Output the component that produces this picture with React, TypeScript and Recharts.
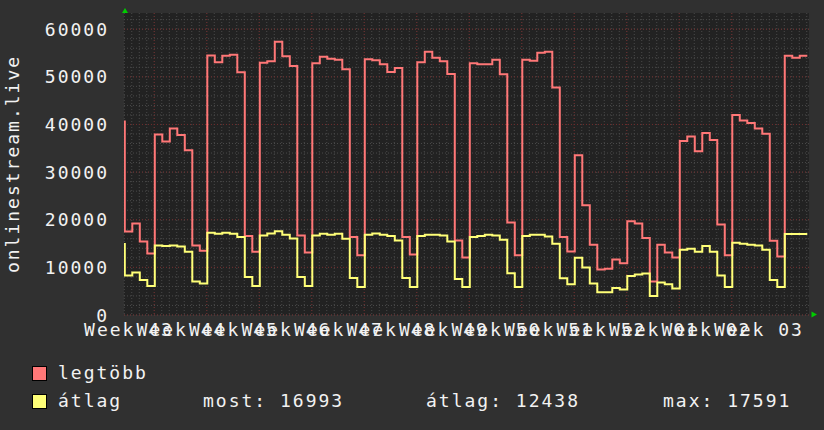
import React from "react";
import { LineChart, Line, XAxis, YAxis, CartesianGrid } from "recharts";

// daily values, first entry is the (partial) day just before the window
const maxValues = [
  40600,
  17550, 19235, 15444, 12917, 37908, 36434, 39172, 37768, 34609, 14602,
  13478, 54475, 53071, 54405, 54616, 50965, 16567, 13268, 52930, 53281,
  57353, 54335, 52299, 16708, 13127, 52860, 54194, 53773, 53562, 51597,
  16357, 12566, 53703, 53492, 52650, 51035, 51877, 16357, 12706, 53071,
  55247, 53984, 53281, 50614, 15655, 12074, 52860, 52650, 52650, 53562,
  50544, 19445, 12566, 53562, 53352, 55037, 55247, 47736, 16357, 13338,
  33556, 23026, 14742, 9547, 9688, 11653, 10881, 19656, 19235, 16146,
  7020, 14742, 13127, 12074, 36504, 37487, 34398, 38189, 36715, 19024,
  12566, 41980, 40856, 40295, 39172, 38048, 15584, 12285, 54405, 53984,
  54405,
];

const avgValues = [
  14883,
  8284, 8915, 7371, 6107, 14602, 14461, 14602, 14391, 13268, 7020,
  6599, 17269, 17059, 17269, 17059, 16357, 8003, 6107, 16708, 17129,
  17591, 16848, 16076, 8003, 6107, 16708, 17059, 16848, 17059, 16006,
  7792, 5897, 16848, 17129, 16848, 16567, 15655, 7792, 5897, 16567,
  16848, 16848, 16708, 15444, 7582, 5897, 16357, 16567, 16848, 16708,
  15795, 8775, 5897, 16567, 16848, 16848, 16497, 14953, 7722, 6458,
  12004, 9968, 6599, 4774, 4774, 5686, 5335, 8213, 8494, 8705,
  4001, 6809, 6458, 5546, 13689, 13900, 13268, 14461, 13268, 8284,
  5897, 15163, 14953, 14742, 14602, 13689, 7371, 5897, 16993, 16993,
  16993,
];

const weekLabels = [
  "Week 43", "Week 44", "Week 45", "Week 46", "Week 47", "Week 48", "Week 49",
  "Week 50", "Week 51", "Week 52", "Week 01", "Week 02", "Week 03",
];

const yTicks = [0, 10000, 20000, 30000, 40000, 50000, 60000];

const seriesNames = ["legtöbb", "átlag"];
const statLabels = ["most:", "átlag:", "max:"];
const statValues = [16993, 12438, 17591];

const W = 824;
const H = 430;
const firstDay = -1;
const xDomain = [-0.107, 91.23];
const yDomain = [0, 63400];
const week43Start = -3.07;

const data = maxValues.map((v, i) => ({ day: firstDay + i, max: v, avg: avgValues[i] }));
data.push({
  day: firstDay + maxValues.length,
  max: maxValues[maxValues.length - 1],
  avg: avgValues[avgValues.length - 1],
});

const weekStarts = weekLabels.map((_, i) => week43Start + 7 * i).filter((d) => d > xDomain[0]);
const weekMids = weekLabels.map((_, i) => week43Start + 3.5 + 7 * i);
const dayLines: number[] = [];
for (let d = week43Start; d < xDomain[1]; d += 1) if (d > xDomain[0]) dayLines.push(d);
const minorY: number[] = [];
for (let v = 0; v < yDomain[1]; v += 2000) minorY.push(v);

const font = { fontFamily: "'DejaVu Sans Mono', monospace", fontSize: 18, letterSpacing: 2 };
const TEXT = "#f2f2f2";

const XTick = (props: any) => {
  const { x, y, index } = props;
  return (
    <text x={x + 1} y={y + 21} textAnchor="middle" fill={TEXT} style={font}>
      {weekLabels[index]}
    </text>
  );
};

const YTick = (props: any) => {
  const { x, y, payload } = props;
  return (
    <text x={x} y={y + 6.5} textAnchor="end" fill={TEXT} style={font}>
      {payload.value}
    </text>
  );
};

const Arrows = () => (
  <g fill="#00cc00">
    <polygon points="122,13 128,13 125,8" />
    <polygon points="811.5,311.5 811.5,317.5 817,314.5" />
  </g>
);

export default function App() {
  return (
    <div style={{ position: "fixed", left: 0, top: 0, width: W, height: H, background: "#303030" }}>
      <LineChart width={W} height={H} data={data} margin={{ top: 13, right: 15, bottom: 85, left: 64 }}>
        <CartesianGrid
          fill="#222222"
          stroke="#4a4a4a"
          strokeDasharray="1 2"
          horizontalValues={minorY}
          verticalValues={dayLines}
        />
        <CartesianGrid
          stroke="#6e2a2a"
          strokeDasharray="1 2"
          horizontalValues={yTicks}
          verticalValues={weekStarts}
        />
        <XAxis
          dataKey="day"
          type="number"
          domain={xDomain}
          allowDataOverflow
          ticks={weekMids}
          interval={0}
          tick={<XTick />}
          tickLine={false}
          axisLine={false}
          tickSize={0}
          tickMargin={0}
          height={30}
        />
        <YAxis
          type="number"
          domain={yDomain}
          ticks={yTicks}
          interval={0}
          tick={<YTick />}
          tickLine={false}
          axisLine={false}
          tickSize={0}
          tickMargin={15}
          width={60}
          label={{
            content: () => (
              <text
                x={18.5}
                y={164}
                transform="rotate(-90 18.5 164)"
                textAnchor="middle"
                fill={TEXT}
                style={font}
              >
                onlinestream.live
              </text>
            ),
          }}
        />
        <Line type="stepAfter" dataKey="max" stroke="#ff7777" strokeWidth={2} dot={false} isAnimationActive={false} />
        <Line type="stepAfter" dataKey="avg" stroke="#ffff77" strokeWidth={2} dot={false} isAnimationActive={false} />
        <Arrows />
      </LineChart>
      <svg width={W} height={H} style={{ position: "absolute", left: 0, top: 0, pointerEvents: "none" }}>
        <rect x={32.5} y={366.5} width={14} height={14} fill="#ff7777" stroke="#000" />
        <rect x={32.5} y={394.5} width={14} height={14} fill="#ffff77" stroke="#000" />
        <g fill={TEXT} style={font}>
          <text x={58} y={379}>{seriesNames[0]}</text>
          <text x={58} y={407}>{seriesNames[1]}</text>
          <text x={203} y={407}>{`${statLabels[0]} ${statValues[0]}`}</text>
          <text x={426} y={407}>{`${statLabels[1]} ${statValues[1]}`}</text>
          <text x={663} y={407}>{`${statLabels[2]} ${statValues[2]}`}</text>
        </g>
      </svg>
    </div>
  );
}
